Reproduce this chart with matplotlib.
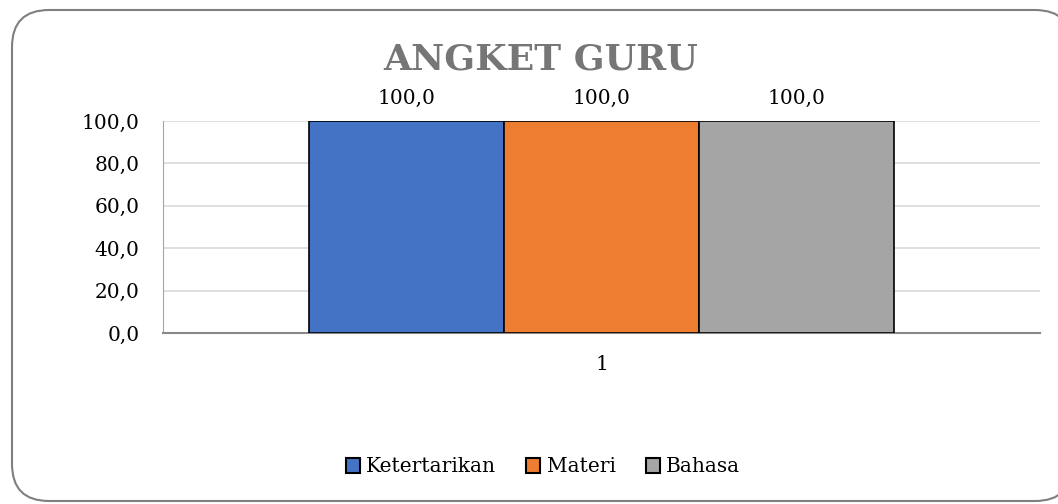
import matplotlib.pyplot as plt
from matplotlib.patches import FancyBboxPatch, Patch
import numpy as np

# data
categories = ["1"]
series_names = ["Ketertarikan", "Materi", "Bahasa"]
series_values = [[100.0], [100.0], [100.0]]
series_colors = ["#4472C4", "#ED7D31", "#A5A5A5"]
y_ticks = [0, 20, 40, 60, 80, 100]

FONT = "DejaVu Serif"

fig = plt.figure(figsize=(10.58, 5.04), dpi=100)

# rounded chart frame, kept behind the axes
frame = FancyBboxPatch((12 / 1058, 3 / 504), 1060 / 1058, 491 / 504,
                       boxstyle="round,pad=0,rounding_size=0.035",
                       transform=fig.transFigure, facecolor="white",
                       edgecolor="#7f7f7f", linewidth=1.5, mutation_aspect=2.1,
                       zorder=-1)
fig.patches.append(frame)

ax = fig.add_axes([163 / 1058, 171 / 504, 877 / 1058, 212 / 504])
ax.patch.set_alpha(0)

x = np.arange(len(categories))
width = 0.222
for i, (name, vals, col) in enumerate(zip(series_names, series_values, series_colors)):
    pos = x + (i - 1) * width
    bars = ax.bar(pos, vals, width, color=col, edgecolor="black", linewidth=1.2,
                  label=name, zorder=3)
    for b, v in zip(bars, vals):
        ax.text(b.get_x() + b.get_width() / 2, v + 6, f"{v:.1f}".replace(".", ","),
                ha="center", va="bottom", fontsize=14.5, family=FONT, color="black")

ax.set_xlim(-0.5, 0.5)
ax.set_ylim(0, 100)
ax.set_yticks(y_ticks)
ax.set_yticklabels([f"{t:.1f}".replace(".", ",") for t in y_ticks], family=FONT, fontsize=14.5)
ax.set_xticks(x)
ax.set_xticklabels(categories, family=FONT, fontsize=14.5)
ax.tick_params(axis="y", length=0, pad=17)
ax.tick_params(axis="x", length=0, pad=16)
ax.grid(True, axis="y", color="#d9d9d9", linewidth=1.2, zorder=0)
for s in ["top", "right"]:
    ax.spines[s].set_visible(False)
ax.spines["left"].set_color("#a6a6a6")
ax.spines["bottom"].set_color("#898989")
ax.spines["bottom"].set_linewidth(1.5)

fig.text(541 / 1058, 1 - 60 / 504, "ANGKET GURU", ha="center", va="center",
         fontsize=26, fontweight="bold", family=FONT, color="#767676")

handles = [Patch(facecolor=c, edgecolor="black", linewidth=1.5) for c in series_colors]
fig.legend(handles, series_names, loc="center", bbox_to_anchor=(543 / 1058, 1 - 467 / 504),
           ncol=3, frameon=False, handlelength=0.7, handleheight=0.7, handletextpad=0.3,
           columnspacing=1.5, prop={"family": FONT, "size": 14.5})

fig.savefig("out.png", dpi=100)
